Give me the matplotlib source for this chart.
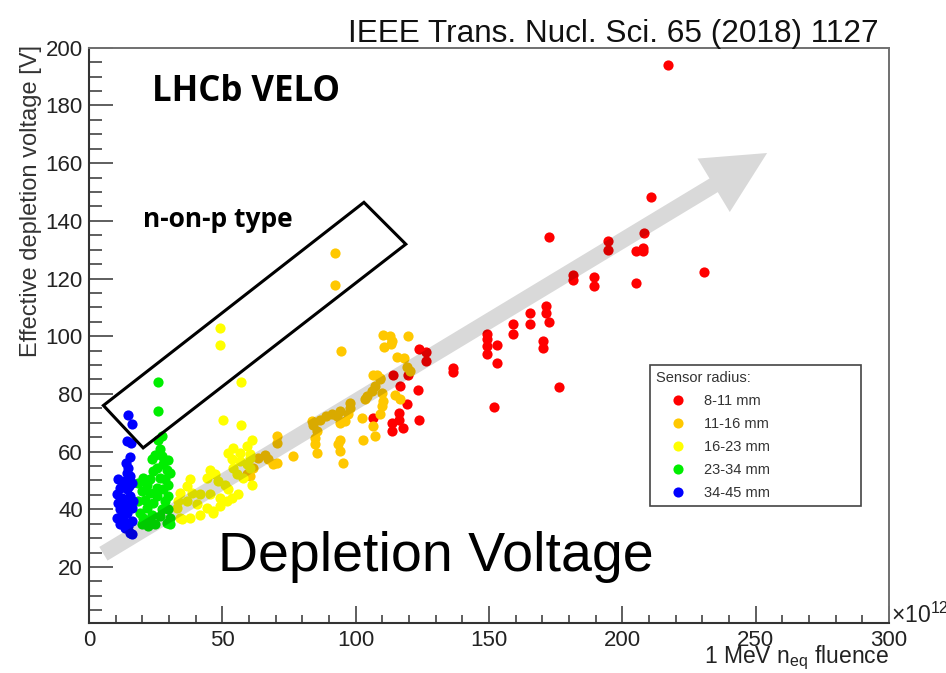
import matplotlib
matplotlib.use("Agg")
import matplotlib.pyplot as plt
from matplotlib.patches import FancyArrowPatch, Polygon
from matplotlib.lines import Line2D
from matplotlib.ticker import MultipleLocator

plt.rcParams["font.family"] = ["Liberation Sans", "DejaVu Sans"]
plt.rcParams["mathtext.fontset"] = "custom"
plt.rcParams["mathtext.rm"] = "Liberation Sans"
plt.rcParams["mathtext.it"] = "Liberation Sans:italic"

# Fluence [1e12 neq/cm2] and effective depletion voltage [V] per sensor radius band
red_x = [217.2, 210.7, 172.5, 194.5, 194.5, 208.0, 205.1, 207.8, 207.6, 230.7,
         181.4, 181.4, 189.2, 189.2, 205.1, 165.4, 165.4, 159.1, 159.1, 171.4,
         171.4, 172.5, 149.4, 170.3, 170.3, 149.4, 149.4, 149.4, 152.9, 152.9,
         176.1, 151.9, 136.4, 136.4, 123.9, 126.4, 126.4, 113.9, 119.7, 116.6,
         123.5, 119.4, 116.4, 116.4, 113.5, 123.9, 117.9, 106.6, 113.5]
red_y = [194.1, 148.4, 134.4, 133.1, 130.0, 135.8, 129.4, 130.6, 129.7, 122.2,
         121.1, 119.5, 120.5, 117.3, 118.6, 108.1, 104.4, 104.4, 100.6, 110.4,
         108.1, 104.9, 100.6, 98.3, 95.9, 99.2, 96.5, 93.7, 97.1, 90.8,
         82.3, 75.4, 89.0, 87.5, 95.4, 94.6, 91.3, 86.5, 86.5, 82.7,
         81.5, 76.6, 73.4, 71.1, 70.0, 70.8, 68.2, 71.7, 67.1]

orange_x = [92.2, 92.2, 94.4, 110.4, 112.9, 110.6, 113.1, 113.5, 119.7, 115.4,
            118.1, 119.1, 120.4, 107.9, 109.1, 107.2, 106.0, 104.1, 103.5, 109.7,
            110.4, 109.7, 109.1, 114.7, 116.6, 97.9, 97.9, 97.2, 94.1, 92.9,
            91.0, 88.9, 86.6, 83.5, 84.1, 85.6, 94.1, 96.0, 102.3, 106.6,
            107.2, 102.8, 84.7, 84.7, 85.4, 94.1, 93.5, 94.1, 95.3, 76.6,
            70.4, 70.4, 66.0, 67.2, 69.1, 63.5, 61.6, 59.1, 60.4, 70.4,
            106.6, 109.1]
orange_y = [128.9, 117.6, 94.8, 100.3, 100.0, 96.2, 97.3, 98.3, 100.0, 92.7,
            92.3, 89.3, 87.9, 86.7, 85.0, 82.7, 81.0, 79.2, 78.1, 80.4,
            77.5, 75.8, 72.9, 79.6, 78.1, 76.9, 75.0, 73.1, 74.0, 72.3,
            72.9, 72.3, 71.1, 70.5, 69.4, 67.1, 69.9, 70.5, 71.7, 68.8,
            65.4, 64.2, 64.8, 62.5, 59.6, 64.2, 62.5, 60.2, 56.1, 58.4,
            65.4, 63.0, 59.0, 57.3, 55.6, 57.9, 54.4, 52.1, 51.5, 56.1,
            86.7, 85.6]

yellow_x = [49.1, 49.1, 56.9, 50.1, 56.9, 61.0, 59.1, 54.1, 52.2, 56.6,
            60.4, 53.5, 56.6, 59.1, 54.1, 55.4, 57.9, 61.0, 45.4, 47.2,
            44.1, 48.5, 50.9, 52.2, 37.9, 36.6, 34.1, 38.5, 41.6, 45.4,
            49.1, 53.5, 56.0, 33.5, 36.6, 40.4, 44.1, 41.6, 37.9, 34.8,
            46.6, 49.1, 34.1, 32.9, 46.6, 51.6, 60.4, 60.4]
yellow_y = [102.7, 96.9, 84.2, 71.1, 69.4, 63.9, 61.9, 61.1, 59.6, 59.6,
            59.2, 57.3, 56.7, 55.6, 54.4, 52.1, 50.9, 48.6, 53.8, 52.1,
            50.9, 49.8, 48.6, 46.9, 50.4, 48.1, 45.7, 45.7, 45.2, 45.2,
            44.0, 44.0, 45.2, 42.9, 42.9, 41.7, 40.5, 38.2, 37.1, 36.5,
            38.8, 41.1, 37.1, 40.5, 39.4, 42.9, 54.4, 57.8]

green_x = [26.0, 26.0, 27.3, 26.0, 26.6, 24.7, 27.3, 29.8, 23.5, 27.9,
           29.1, 25.4, 24.1, 30.4, 20.4, 22.9, 26.6, 28.5, 18.5, 21.6,
           29.7, 25.4, 27.9, 19.8, 22.9, 29.7, 25.4, 21.0, 28.5, 18.5,
           24.1, 21.6, 27.3, 29.7, 19.1, 23.5, 26.6, 30.4, 20.4, 22.9,
           19.8, 29.1, 24.7, 30.4, 22.2]
green_y = [84.2, 74.0, 65.4, 64.2, 60.8, 59.0, 58.4, 57.0, 57.3, 55.6,
           53.8, 54.4, 53.2, 52.7, 50.9, 50.4, 50.9, 50.4, 49.2, 48.6,
           48.6, 47.4, 46.9, 46.3, 45.7, 44.6, 44.6, 43.4, 42.9, 42.9,
           42.3, 40.5, 40.0, 40.0, 38.8, 38.2, 37.7, 37.1, 37.1, 35.9,
           34.8, 35.3, 34.8, 35.0, 34.2]

blue_x = [14.7, 16.2, 14.4, 15.9, 15.4, 13.9, 14.7, 14.1, 15.4, 11.0,
          13.5, 16.0, 11.6, 14.1, 10.4, 12.3, 15.4, 16.6, 11.0, 13.5,
          16.0, 11.6, 14.1, 10.4, 12.9, 16.0, 11.6, 14.7, 15.4, 16.0,
          13.5, 12.3, 15.0]
blue_y = [72.6, 69.6, 63.6, 63.1, 58.1, 56.1, 54.4, 52.7, 51.5, 50.4,
          49.8, 49.2, 47.4, 46.9, 45.2, 44.0, 44.6, 42.9, 42.3, 41.7,
          40.5, 40.0, 38.8, 37.1, 36.5, 35.9, 34.8, 34.2, 31.9, 31.3,
          33.5, 38.0, 48.0]

groups = [
    ("8-11 mm", "#ff0000", red_x, red_y),
    ("11-16 mm", "#ffc800", orange_x, orange_y),
    ("16-23 mm", "#ffff00", yellow_x, yellow_y),
    ("23-34 mm", "#00ee00", green_x, green_y),
    ("34-45 mm", "#0000ff", blue_x, blue_y),
]

# Trend arrow (tail -> head) and the n-on-p enclosure, in data units
arrow_tail = (5.4, 24.6)
arrow_head = (254.3, 163.5)
box_x = [5.4, 103.1, 118.8, 20.3]
box_y = [76.0, 146.4, 131.9, 61.3]

W, H = 946, 673
fig = plt.figure(figsize=(W / 100, H / 100), dpi=100)
ax = fig.add_axes([89 / W, 1 - 623.3 / H, 800 / W, 575.6 / H])

for label, color, xs, ys in groups:
    ax.scatter(xs, ys, s=54, color=color, linewidths=0, zorder=3)

arrow = FancyArrowPatch(arrow_tail, arrow_head,
                        arrowstyle="simple,head_length=45,head_width=45,tail_width=11.5",
                        mutation_scale=1, shrinkA=0, shrinkB=0,
                        color="black", alpha=0.15, lw=0, zorder=4)
ax.add_patch(arrow)

ax.add_patch(Polygon(list(zip(box_x, box_y)), closed=True, fill=False,
                     edgecolor="black", lw=2.2, joinstyle="miter", zorder=5))

ax.set_xlim(0, 300)
ax.set_ylim(0.5, 200)
ax.xaxis.set_major_locator(MultipleLocator(50))
ax.xaxis.set_minor_locator(MultipleLocator(10))
ax.yaxis.set_major_locator(MultipleLocator(20))
ax.yaxis.set_minor_locator(MultipleLocator(5))
ax.tick_params(axis="both", which="both", direction="in", colors="#333333",
               labelcolor="#222222", labelsize=16, top=False, right=False, width=1.1)
ax.tick_params(axis="y", which="major", length=17, pad=4.5)
ax.tick_params(axis="y", which="minor", length=9.5)
ax.tick_params(axis="x", which="major", length=12, pad=5)
ax.tick_params(axis="x", which="minor", length=6)
for side in ("left", "bottom"):
    ax.spines[side].set_color("#333333")
    ax.spines[side].set_linewidth(1.5)
for side in ("top", "right"):
    ax.spines[side].set_color("#707070")
    ax.spines[side].set_linewidth(1.4)

ax.text(0.079, 0.908, "LHCb VELO", transform=ax.transAxes, fontsize=25,
        fontweight="bold", family=["Open Sans", "DejaVu Sans"], color="black",
        va="baseline", ha="left")
ax.text(0.0675, 0.689, "n-on-p type", transform=ax.transAxes, fontsize=19,
        fontweight="bold", family=["Open Sans", "DejaVu Sans"], color="black",
        va="baseline", ha="left")
ax.text(48.4, 18.6, "Depletion Voltage", fontsize=40, color="black",
        va="baseline", ha="left", zorder=6)

fig.text(879 / W, 1 - 41.7 / H, "IEEE Trans. Nucl. Sci. 65 (2018) 1127",
         fontsize=22.7, color="#111111", ha="right", va="baseline")
fig.text(31 / W, 1 - 45 / H, "Effective depletion voltage [V]", rotation=90,
         fontsize=17, color="#333333", ha="center", va="top")
fig.text(889 / W, 1 - 663 / H, r"1 MeV n$_{\rm eq}$ fluence",
         fontsize=16.5, color="#222222", ha="right", va="baseline")
fig.text(891 / W, 1 - 623 / H, r"$\times$10$^{12}$",
         fontsize=16.5, color="#222222", ha="left", va="baseline")

handles = [Line2D([], [], ls="none", marker="o", markersize=7.3,
                  markerfacecolor=c, markeredgewidth=0, label=lab)
           for lab, c, _, _ in groups]
leg = ax.legend(handles=handles, title="Sensor radius:", loc="upper left",
                bbox_to_anchor=((650 - 89) / 800, 0, 211 / 800, (623.3 - 365) / 575.6),
                mode="expand", borderaxespad=0, fontsize=10.5, title_fontsize=10.5,
                alignment="left", handlelength=3.1, handletextpad=0.2,
                labelspacing=0.62, borderpad=0.4, fancybox=False,
                edgecolor="#444444", framealpha=1)
leg.get_frame().set_linewidth(1.2)
leg.set_zorder(7)
for t in leg.get_texts():
    t.set_color("#333333")
leg.get_title().set_color("#333333")

fig.savefig("out.png", dpi=100, facecolor="white")
